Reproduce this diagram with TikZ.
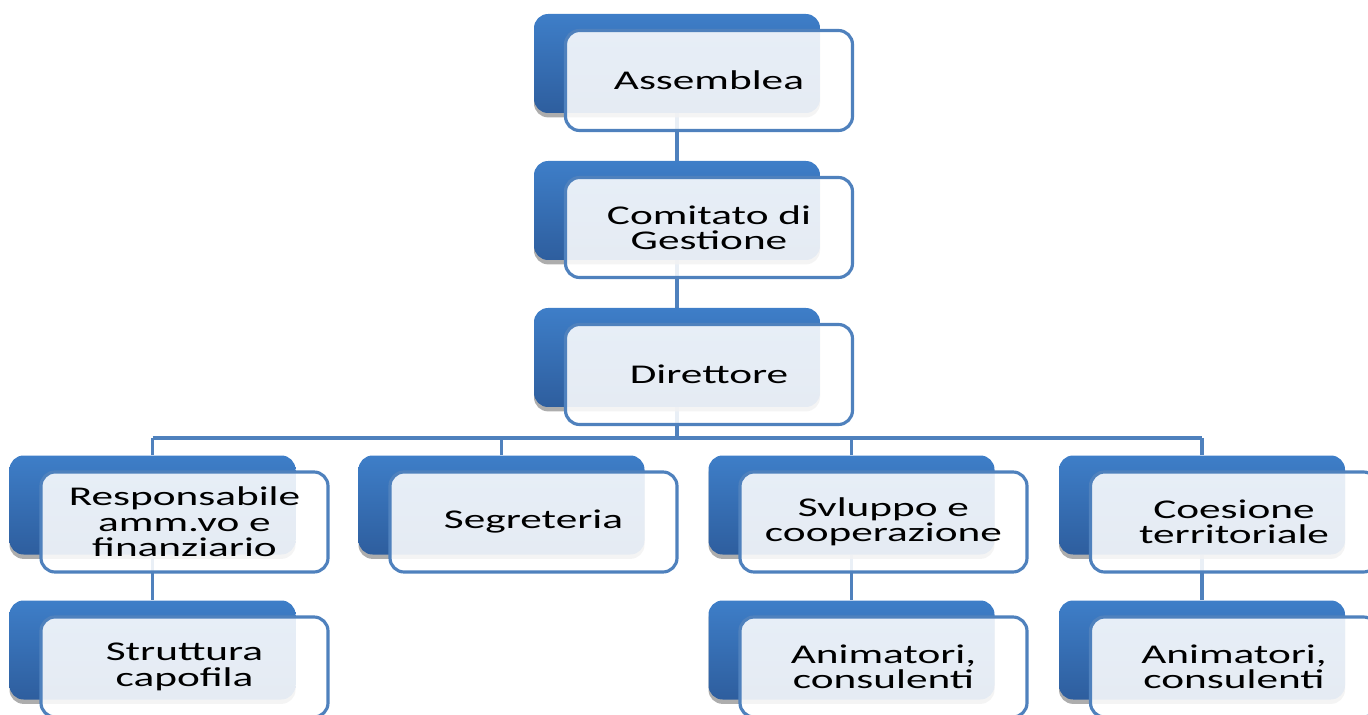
\documentclass[tikz,border=0pt]{standalone}
\usepackage{fontspec}
\setmainfont{Carlito}[FakeStretch=1.6]
\usetikzlibrary{positioning,shadows,backgrounds}
\definecolor{boxtop}{RGB}{62,126,200}
\definecolor{boxbot}{RGB}{46,94,158}
\definecolor{edge}{RGB}{79,129,189}

\begin{document}
\begin{tikzpicture}[
  back/.style={minimum width=5.72cm,minimum height=1.98cm,rounded corners=8pt,
    top color=boxtop,bottom color=boxbot,
    drop shadow={shadow xshift=0pt,shadow yshift=-2.5pt,fill=black!40,opacity=0.8}},
  front/.style={minimum width=5.74cm,minimum height=2cm,rounded corners=8pt,
    draw=edge,line width=1.8pt,fill=white,fill opacity=0.88,text opacity=1,
    align=center,font=\fontsize{15.4}{14.5}\selectfont},
  link/.style={draw=edge,line width=1.8pt}]
  \useasboundingbox (0,0) rectangle (27.36,14.28);
  \clip (0,0) rectangle (27.36,14.28);

  \node[back] (asm-b) at (13.54,13.01) {};
  \node[front] (asm) at ([shift={(0.64,-0.34)}]asm-b.center) {Assemblea};
  \node[back] (com-b) at (13.54,10.07) {};
  \node[front] (com) at ([shift={(0.64,-0.34)}]com-b.center) {Comitato di\\Gestione};
  \node[back] (dir-b) at (13.54,7.13) {};
  \node[front] (dir) at ([shift={(0.64,-0.34)}]dir-b.center) {Direttore};

  \node[back] (resp-b) at (3.05,4.18) {};
  \node[front] (resp) at ([shift={(0.64,-0.34)}]resp-b.center) {Responsabile\\amm.vo e\\finanziario};
  \node[back] (seg-b) at (10.03,4.18) {};
  \node[front] (seg) at ([shift={(0.64,-0.34)}]seg-b.center) {Segreteria};
  \node[back] (svil-b) at (17.03,4.18) {};
  \node[front] (svil) at ([shift={(0.64,-0.34)}]svil-b.center) {Svluppo e\\cooperazione};
  \node[back] (coes-b) at (24.04,4.18) {};
  \node[front] (coes) at ([shift={(0.64,-0.34)}]coes-b.center) {Coesione\\territoriale};

  \node[back] (strut-b) at (3.05,1.28) {};
  \node[front] (strut) at ([shift={(0.64,-0.34)}]strut-b.center) {Struttura\\capofila};
  \node[back] (anim1-b) at (17.03,1.28) {};
  \node[front] (anim1) at ([shift={(0.64,-0.34)}]anim1-b.center) {Animatori,\\consulenti};
  \node[back] (anim2-b) at (24.04,1.28) {};
  \node[front] (anim2) at ([shift={(0.64,-0.34)}]anim2-b.center) {Animatori,\\consulenti};

  \begin{pgfonlayer}{background}
    \draw[link] (asm-b) -- (com-b);
    \draw[link] (com-b) -- (dir-b);
    \draw[link] (dir-b) -- ++(0,-1.61) coordinate (bus);
    \draw[link] (bus -| resp-b) -- (bus -| coes-b);
    \draw[link] (resp-b) -- (resp-b |- bus);
    \draw[link] (seg-b) -- (seg-b |- bus);
    \draw[link] (svil-b) -- (svil-b |- bus);
    \draw[link] (coes-b) -- (coes-b |- bus);
    \draw[link] (resp-b) -- (strut-b);
    \draw[link] (svil-b) -- (anim1-b);
    \draw[link] (coes-b) -- (anim2-b);
  \end{pgfonlayer}
\end{tikzpicture}
\end{document}
